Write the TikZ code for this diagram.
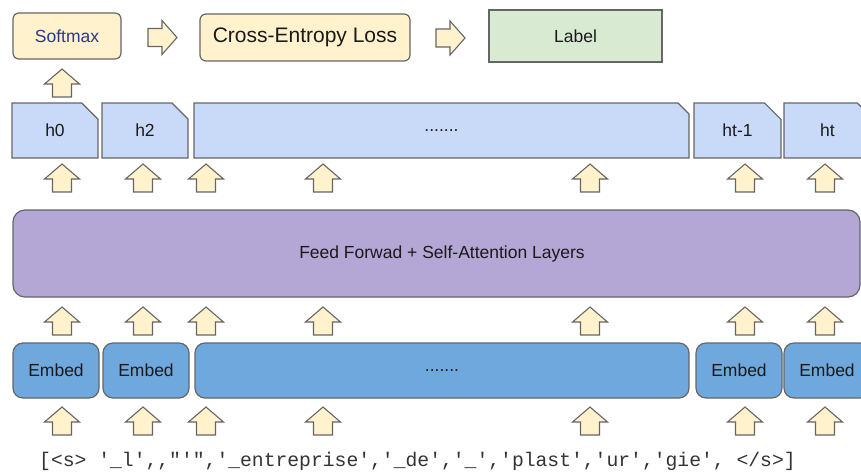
\documentclass[tikz,border=0pt]{standalone}
\usepackage{fontspec}
\setmainfont{Liberation Sans}
\setmonofont{Liberation Mono}
\usetikzlibrary{shapes.misc}
\definecolor{cream}{HTML}{FFF2CC}
\definecolor{edge}{HTML}{666666}
\definecolor{greenfill}{HTML}{D9EAD3}
\definecolor{hfill}{HTML}{C9DAF8}
\definecolor{fffill}{HTML}{B4A7D6}
\definecolor{embfill}{HTML}{6FA8DC}
\definecolor{sfblue}{HTML}{2B3990}
\definecolor{txt}{HTML}{1A1A1A}
\definecolor{tokgray}{HTML}{333333}
\begin{document}
\begin{tikzpicture}[x=1pt,y=-1pt,
  base/.style={draw=edge, line width=1.2pt, inner sep=0pt, text=txt, font=\fontsize{17.5}{20}\selectfont},
  creambox/.style={base, fill=cream, rounded corners=6pt},
  labelbox/.style={base, fill=greenfill},
  hnode/.style={base, fill=hfill, chamfered rectangle, chamfered rectangle corners=north east,
     chamfered rectangle xsep=10pt, chamfered rectangle ysep=10pt, minimum height=55pt, minimum width=#1},
  ffbox/.style={base, fill=fffill, rounded corners=12pt},
  embbox/.style={base, fill=embfill, rounded corners=10pt, minimum height=55pt, minimum width=#1},
  arrowstyle/.style={draw=edge, line width=1.1pt, fill=cream, line join=miter},
  uparrow/.pic={\draw[arrowstyle] (-9.5,0) -- (-9.5,-13) -- (-17.5,-13) -- (0,-28) -- (17.5,-13) -- (9.5,-13) -- (9.5,0) -- cycle;},
  rightarrow/.pic={\draw[arrowstyle] (0,-9) -- (14,-9) -- (14,-17) -- (29,0) -- (14,17) -- (14,9) -- (0,9) -- cycle;}
]
\clip (0,0) rectangle (861,471);
\fill[white] (0,0) rectangle (861,471);

% top row
\node[creambox, minimum width=108pt, minimum height=46pt, text=sfblue] (softmax) at (67,36) {Softmax};
\node[creambox, minimum width=210pt, minimum height=47pt, font=\fontsize{21}{24}\selectfont] (ce) at (305,37.5) {Cross-Entropy Loss};
\node[labelbox, minimum width=173pt, minimum height=52pt] (label) at (575.5,36) {Label};
\pic at (148,37.5) {rightarrow};
\pic at (436,38) {rightarrow};
\pic at (62,97) {uparrow};

% hidden states
\node[hnode=86pt] (h0) at (55,130.5) {h0};
\node[hnode=86pt] (h2) at (145,130.5) {h2};
\node[hnode=495pt] (hdots) at (441.5,130.5) {.......};
\node[hnode=87pt] (htm1) at (737.5,130.5) {ht-1};
\node[hnode=87pt] (ht) at (827.5,130.5) {ht};

% feed forward
\node[ffbox, minimum width=847pt, minimum height=87pt] (ff) at (436.5,253.5) {\hspace*{11pt}Feed Forwad + Self-Attention Layers};

% embeddings
\node[embbox=86pt] (e1) at (56,370.5) {Embed};
\node[embbox=86pt] (e2) at (146,370.5) {Embed};
\node[embbox=494pt] (edots) at (442,370.5) {.......};
\node[embbox=86pt] (e4) at (739,370.5) {Embed};
\node[embbox=86pt] (e5) at (827,370.5) {Embed};

% up arrows
\foreach \xx in {62,143,206,323,590,745,825} {
  \pic at (\xx,192) {uparrow};
  \pic at (\xx,335) {uparrow};
  \pic at (\xx,435) {uparrow};
}

% tokens
\node[inner sep=0pt, text=tokgray, font=\ttfamily\fontsize{19.7}{22}\selectfont] (tokens) at (417.5,461)
  {[<s> '\_l',,"'",'\_entreprise','\_de','\_','plast','ur','gie', </s>]};
\end{tikzpicture}
\end{document}
